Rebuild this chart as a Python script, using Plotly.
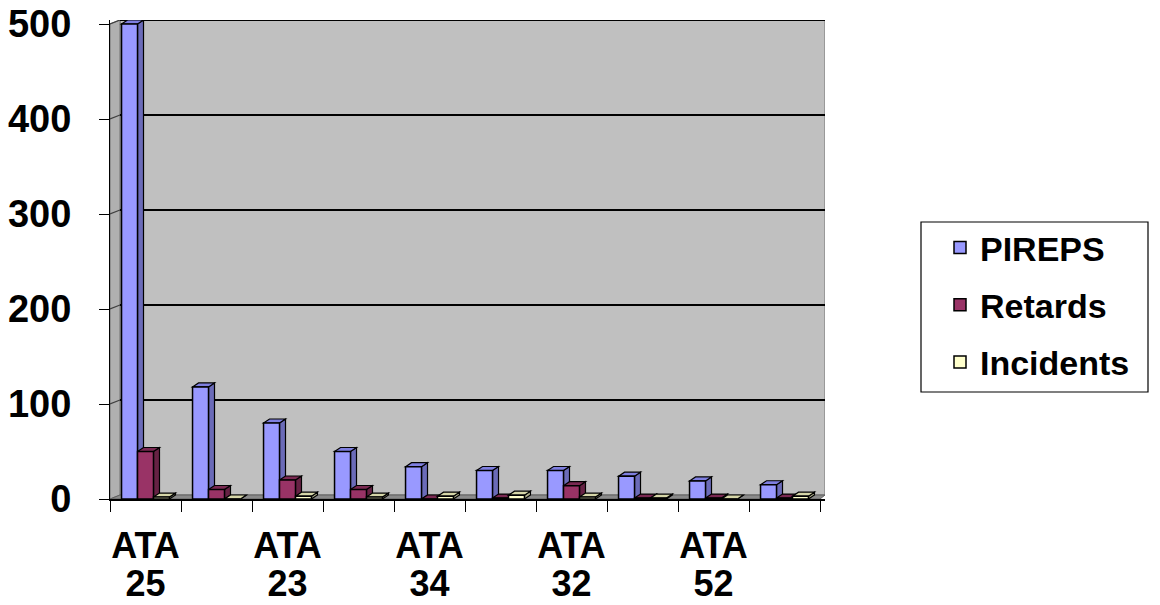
import plotly.graph_objects as go

# --- data -------------------------------------------------------------
tick_line1 = ["ATA", "", "ATA", "", "ATA", "", "ATA", "", "ATA", ""]
tick_line2 = ["25", "", "23", "", "34", "", "32", "", "52", ""]
pireps = [500, 118, 80, 50, 34, 30, 30, 24, 19, 15]
retards = [50, 10, 20, 10, 0, 1, 14, 1, 1, 1]
incidents = [2, 0, 3, 2, 3, 4, 2, 1, 0, 3]
y_ticks = [0, 100, 200, 300, 400, 500]

series = [
    ("PIREPS", pireps, "#9999FF", "#6B6BB8", "#7F7FE0"),
    ("Retards", retards, "#993366", "#662244", "#7A2952"),
    ("Incidents", incidents, "#FFFFCC", "#B3B38F", "#D6D6A8"),
]

# --- geometry (in axis units) ----------------------------------------
n = len(tick_line1)
px_per_cat = 71.0
px_per_val = 0.95
bar_gap = 0.325
bar_w = (1 - bar_gap) / 3
dx, dy = 6 / px_per_cat, 4 / px_per_val          # bar depth
wdx, wdy = 10 / px_per_cat, 4 / px_per_val       # wall depth
x_lo, x_hi = -0.5, n - 0.5 + 5 / px_per_cat
y_top = max(y_ticks) + wdy

FONT = "Liberation Sans, Arial, sans-serif"
W, H = 1160, 605
ML, MR, MT, MB = 110, 335, 20, 106
PW, PH = W - ML - MR, H - MT - MB

fig = go.Figure()
positions = list(range(n))
for name, vals, c_front, c_side, c_top in series:
    fig.add_trace(go.Bar(
        x=positions, y=vals, name=name, legendgroup=name,
        marker=dict(color=c_front, line=dict(color="black", width=1.5)),
    ))
# empty trace so the second row of category labels gets its own axis
fig.add_trace(go.Scatter(x=[], y=[], xaxis="x2", yaxis="y",
                         showlegend=False, hoverinfo="skip"))

shapes = []


def poly(pts, fill, line="black", width=1.2, layer="between"):
    d = "M " + " L ".join(f"{x},{y}" for x, y in pts) + " Z"
    shapes.append(dict(type="path", path=d, xref="x", yref="y",
                       fillcolor=fill, line=dict(color=line, width=width),
                       layer=layer))


# walls and floor
poly([(x_lo + wdx, wdy), (x_hi, wdy), (x_hi, y_top), (x_lo + wdx, y_top)],
     "#C0C0C0", line="#8C8C8C", width=1.5)
poly([(x_lo, 0), (x_lo + wdx, wdy), (x_lo + wdx, y_top), (x_lo, max(y_ticks))],
     "#B0B0B0", line="#707070", width=1)
poly([(x_lo, 0), (x_lo + wdx, wdy), (x_hi, wdy), (n - 0.5, 0)],
     "#8A8A8A", line="#606060", width=1)

# gridlines on the back wall, joined to the front ticks across the side wall
for v in y_ticks[1:]:
    shapes.append(dict(type="line", xref="x", yref="y", layer="between",
                       x0=x_lo + wdx, x1=x_hi, y0=v + wdy, y1=v + wdy,
                       line=dict(color="black", width=2)))
    shapes.append(dict(type="line", xref="x", yref="y", layer="between",
                       x0=x_lo, x1=x_lo + wdx, y0=v, y1=v + wdy,
                       line=dict(color="#404040", width=1.2)))

# side and top faces of each bar
for k, (name, vals, c_front, c_side, c_top) in enumerate(series):
    for i, v in enumerate(vals):
        x0 = i - 3 * bar_w / 2 + k * bar_w
        x1 = x0 + bar_w
        poly([(x1, 0), (x1 + dx, dy), (x1 + dx, v + dy), (x1, v)], c_side)
        poly([(x0, v), (x0 + dx, v + dy), (x1 + dx, v + dy), (x1, v)], c_top)

# legend frame
lg_l, lg_r, lg_t, lg_b = 921, 1148, 222, 392
shapes.append(dict(type="rect", xref="paper", yref="paper", layer="above",
                   x0=(lg_l - ML) / PW, x1=(lg_r - ML) / PW,
                   y0=(H - MB - lg_b) / PH, y1=(H - MB - lg_t) / PH,
                   line=dict(color="black", width=1.2), fillcolor="rgba(0,0,0,0)"))

tick_font = dict(family=FONT, size=36, weight=700, color="black")

fig.update_layout(
    width=W, height=H,
    margin=dict(l=ML, r=MR, t=MT, b=MB),
    paper_bgcolor="white", plot_bgcolor="white",
    barmode="group", bargap=bar_gap, bargroupgap=0,
    shapes=shapes,
    font=dict(family=FONT, color="black"),
    showlegend=True,
    legend=dict(
        x=(940 - ML) / PW, xanchor="left",
        y=(H - MB - 219) / PH, yanchor="top",
        bgcolor="rgba(0,0,0,0)", borderwidth=0,
        font=dict(family=FONT, size=34, weight=700, color="black"),
        traceorder="grouped", tracegroupgap=10,
    ),
    xaxis=dict(
        range=[x_lo, x_hi], tickmode="array",
        tickvals=positions, ticktext=tick_line1,
        ticks="", showgrid=False, zeroline=False, automargin=False,
        showline=True, linecolor="black", linewidth=1.5,
        tickfont=tick_font, ticklabelstandoff=14,
        minor=dict(tickmode="array",
                   tickvals=[i - 0.5 for i in range(n + 1)],
                   ticks="outside", ticklen=11, tickcolor="black",
                   tickwidth=1.2, showgrid=False),
    ),
    xaxis2=dict(
        range=[x_lo, x_hi], overlaying="x", anchor="y", side="bottom",
        tickmode="array", tickvals=positions, ticktext=tick_line2,
        ticks="", showgrid=False, zeroline=False, showline=False,
        automargin=False, tickfont=tick_font, ticklabelstandoff=60,
    ),
    yaxis=dict(
        range=[0, y_top], tickmode="array", tickvals=y_ticks,
        ticks="outside", ticklen=10, tickcolor="black", tickwidth=1.2,
        showgrid=False, zeroline=False, automargin=False,
        showline=True, linecolor="black", linewidth=1.2,
        tickfont=dict(family=FONT, size=38, weight=700, color="black"),
        ticklabelstandoff=20,
    ),
)

fig.write_html("out.html")
